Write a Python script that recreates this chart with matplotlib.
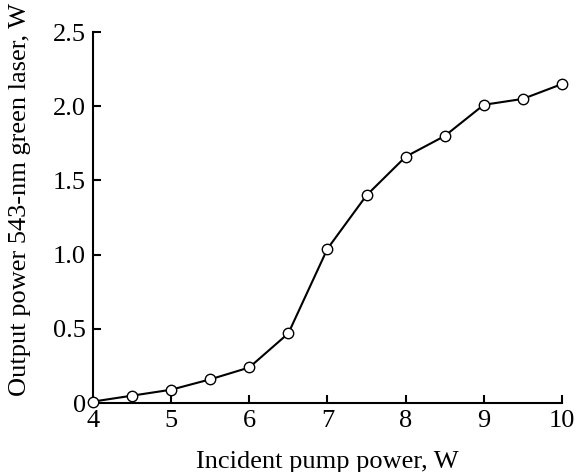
import matplotlib
matplotlib.use('Agg')
import matplotlib.pyplot as plt

# data
pump_power = [4.0, 4.5, 5.0, 5.5, 6.0, 6.5, 7.0, 7.5, 8.0, 8.5, 9.0, 9.5, 10.0]
green_power = [0.01, 0.05, 0.09, 0.16, 0.24, 0.47, 1.04, 1.40, 1.66, 1.80, 2.01, 2.05, 2.15]
y_ticks = [0, 0.5, 1.0, 1.5, 2.0, 2.5]
y_labels = ['0', '0.5', '1.0', '1.5', '2.0', '2.5']
x_ticks = [4, 5, 6, 7, 8, 9, 10]

plt.rcParams['font.family'] = ['Liberation Serif', 'DejaVu Serif']

fig = plt.figure(figsize=(5.77, 4.72), dpi=100)
ax = fig.add_axes([0.161, 0.146, 0.813, 0.786])

ax.plot(pump_power, green_power, color='black', lw=1.5, marker='o',
        markersize=7.5, markerfacecolor='white', markeredgecolor='black',
        markeredgewidth=1.0, clip_on=False, zorder=3)

ax.set_xlim(4, 10)
ax.set_ylim(0, 2.5)
ax.set_xticks(x_ticks)
ax.set_yticks(y_ticks)
ax.set_yticklabels(y_labels)

for s in ['top', 'right']:
    ax.spines[s].set_visible(False)
for s in ['left', 'bottom']:
    ax.spines[s].set_linewidth(1.5)

ax.tick_params(direction='in', length=6, width=1.5, labelsize=19, pad=5)
ax.set_xlabel('Incident pump power, W', fontsize=19, labelpad=14)
ax.set_ylabel('Output power 543-nm green laser, W', fontsize=19)
ax.yaxis.set_label_coords(-0.132, 0.55)

fig.savefig('out.png', dpi=100)
